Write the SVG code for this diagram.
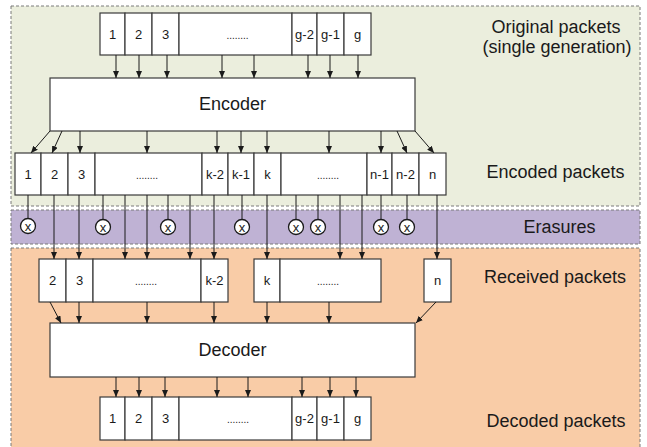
<svg xmlns="http://www.w3.org/2000/svg" width="647" height="447" viewBox="0 0 647 447">
<defs>
<marker id="ah" markerUnits="userSpaceOnUse" markerWidth="7" markerHeight="6" refX="7" refY="3" orient="auto">
<path d="M0,0 L7,3 L0,6 z" fill="#1a1a1a"/>
</marker>
<style>
.region{stroke:#7a7a7a;stroke-width:1;stroke-dasharray:3,2}
.box{fill:#ffffff;stroke:#3a3a3a;stroke-width:1.2}
.lbl{font-family:"Liberation Sans",Arial,sans-serif;font-size:13px;fill:#1a1a1a;text-anchor:middle}
.dots{font-family:"Liberation Sans",Arial,sans-serif;font-size:10px;fill:#1a1a1a;text-anchor:middle}
.big{font-family:"Liberation Sans",Arial,sans-serif;font-size:18px;fill:#1a1a1a;text-anchor:middle}
.ar{stroke:#1a1a1a;stroke-width:1;fill:none;marker-end:url(#ah)}
.ln{stroke:#1a1a1a;stroke-width:1;fill:none}
.xc{fill:#ffffff;stroke:#1a1a1a;stroke-width:1.3}
.xt{font-family:"Liberation Sans",Arial,sans-serif;font-size:13px;fill:#1a1a1a;text-anchor:middle}
</style>
</defs>
<rect width="647" height="447" fill="#ffffff"/>
<g id="regions">
<rect class="region" x="11" y="6" width="629" height="200" fill="#ebeedd"/>
<rect class="region" x="11" y="210" width="629" height="34" fill="#bfb2d4"/>
<rect class="region" x="11" y="248" width="629" height="205" fill="#f9cca7"/>
</g>
<g id="labels">
<text class="big" x="556" y="33">Original packets</text>
<text class="big" x="557" y="53">(single generation)</text>
<text class="big" x="555.5" y="178">Encoded packets</text>
<text class="big" x="559.5" y="233">Erasures</text>
<text class="big" x="555" y="283">Received packets</text>
<text class="big" x="556" y="427">Decoded packets</text>
</g>
<g id="original">
<rect class="box" x="100" y="13" width="25" height="42"/><text class="lbl" x="112.5" y="38.5">1</text>
<rect class="box" x="125" y="13" width="27" height="42"/><text class="lbl" x="138.5" y="38.5">2</text>
<rect class="box" x="152" y="13" width="27" height="42"/><text class="lbl" x="165.5" y="38.5">3</text>
<rect class="box" x="179" y="13" width="113" height="42"/><text class="dots" x="237.5" y="38.5">........</text>
<rect class="box" x="292" y="13" width="25" height="42"/><text class="lbl" x="304.5" y="38.5">g-2</text>
<rect class="box" x="317" y="13" width="27" height="42"/><text class="lbl" x="330.5" y="38.5">g-1</text>
<rect class="box" x="344" y="13" width="27" height="42"/><text class="lbl" x="357.5" y="38.5">g</text>
</g>
<g id="encoder">
<rect class="box" x="50" y="78" width="365" height="53"/>
<text class="big" x="232.5" y="110">Encoder</text>
</g>
<g id="encoded">
<rect class="box" x="15" y="153" width="26" height="42"/><text class="lbl" x="28" y="178.5">1</text>
<rect class="box" x="41" y="153" width="27" height="42"/><text class="lbl" x="54.5" y="178.5">2</text>
<rect class="box" x="68" y="153" width="27" height="42"/><text class="lbl" x="81.5" y="178.5">3</text>
<rect class="box" x="95" y="153" width="107" height="42"/><text class="dots" x="147" y="178.5">........</text>
<rect class="box" x="202" y="153" width="26" height="42"/><text class="lbl" x="215" y="178.5">k-2</text>
<rect class="box" x="228" y="153" width="26" height="42"/><text class="lbl" x="241" y="178.5">k-1</text>
<rect class="box" x="254" y="153" width="27" height="42"/><text class="lbl" x="267.5" y="178.5">k</text>
<rect class="box" x="281" y="153" width="86" height="42"/><text class="dots" x="328" y="178.5">........</text>
<rect class="box" x="367" y="153" width="25" height="42"/><text class="lbl" x="379.5" y="178.5">n-1</text>
<rect class="box" x="392" y="153" width="27" height="42"/><text class="lbl" x="405.5" y="178.5">n-2</text>
<rect class="box" x="419" y="153" width="27" height="42"/><text class="lbl" x="432.5" y="178.5">n</text>
</g>
<g id="received">
<rect class="box" x="39" y="259" width="27" height="43"/><text class="lbl" x="52.5" y="285">2</text>
<rect class="box" x="66" y="259" width="27" height="43"/><text class="lbl" x="79.5" y="285">3</text>
<rect class="box" x="93" y="259" width="108" height="43"/><text class="dots" x="146" y="285">........</text>
<rect class="box" x="201" y="259" width="27" height="43"/><text class="lbl" x="214.5" y="285">k-2</text>
<rect class="box" x="254" y="259" width="26" height="43"/><text class="lbl" x="267" y="285">k</text>
<rect class="box" x="280" y="259" width="101" height="43"/><text class="dots" x="328" y="285">........</text>
<rect class="box" x="424" y="259" width="27" height="43"/><text class="lbl" x="437.5" y="285">n</text>
</g>
<g id="decoder">
<rect class="box" x="50" y="323" width="365" height="54"/>
<text class="big" x="232.5" y="356">Decoder</text>
</g>
<g id="decoded">
<rect class="box" x="100" y="397" width="25" height="43"/><text class="lbl" x="112.5" y="423">1</text>
<rect class="box" x="125" y="397" width="27" height="43"/><text class="lbl" x="138.5" y="423">2</text>
<rect class="box" x="152" y="397" width="27" height="43"/><text class="lbl" x="165.5" y="423">3</text>
<rect class="box" x="179" y="397" width="113" height="43"/><text class="dots" x="238" y="423">........</text>
<rect class="box" x="292" y="397" width="25" height="43"/><text class="lbl" x="304.5" y="423">g-2</text>
<rect class="box" x="317" y="397" width="27" height="43"/><text class="lbl" x="330.5" y="423">g-1</text>
<rect class="box" x="344" y="397" width="27" height="43"/><text class="lbl" x="357.5" y="423">g</text>
</g>
<g id="connectors">
<path class="ar" d="M116,55 V78"/><path class="ar" d="M139,55 V78"/><path class="ar" d="M167,55 V78"/><path class="ar" d="M222,55 V78"/>
<path class="ar" d="M254,55 V78"/><path class="ar" d="M308,55 V78"/><path class="ar" d="M330,55 V78"/><path class="ar" d="M358,55 V78"/>
<path class="ar" d="M50,131 L31,153"/><path class="ar" d="M62,131 L52,153"/>
<path class="ar" d="M80,131 V153"/><path class="ar" d="M147,131 V153"/><path class="ar" d="M217,131 V153"/><path class="ar" d="M241,131 V153"/>
<path class="ar" d="M267,131 V153"/><path class="ar" d="M329,131 V153"/><path class="ar" d="M381,131 V153"/>
<path class="ar" d="M397,131 L407,153"/><path class="ar" d="M415,131 L434,153"/>
<path class="ln" d="M28,195 V218.5"/><path class="ln" d="M103,195 V219.5"/><path class="ln" d="M168,195 V219.5"/><path class="ln" d="M242,195 V219.5"/>
<path class="ln" d="M296,195 V219.5"/><path class="ln" d="M318,195 V219.5"/><path class="ln" d="M381,195 V219.5"/><path class="ln" d="M407,195 V219.5"/>
<path class="ar" d="M54,195 V259"/><path class="ar" d="M79,195 V259"/><path class="ar" d="M125,195 V259"/><path class="ar" d="M147,195 V259"/>
<path class="ar" d="M190,195 V259"/><path class="ar" d="M214,195 V259"/><path class="ar" d="M267,195 V259"/><path class="ar" d="M340,195 V259"/>
<path class="ar" d="M362,195 V259"/><path class="ar" d="M437,195 V259"/>
<path class="ar" d="M50,302 L61,323"/><path class="ar" d="M79,302 V323"/><path class="ar" d="M147,302 V323"/><path class="ar" d="M214,302 V323"/>
<path class="ar" d="M267,302 V323"/><path class="ar" d="M329,302 V323"/><path class="ar" d="M436,302 L416,323"/>
<path class="ar" d="M116,377 V397"/><path class="ar" d="M139,377 V397"/><path class="ar" d="M165,377 V397"/><path class="ar" d="M217,377 V397"/>
<path class="ar" d="M248,377 V397"/><path class="ar" d="M302,377 V397"/><path class="ar" d="M330,377 V397"/><path class="ar" d="M356,377 V397"/>
</g>
<g id="erasures">
<circle class="xc" cx="28" cy="226" r="7.5"/><text class="xt" x="28" y="230.5">x</text>
<circle class="xc" cx="103" cy="227" r="7.5"/><text class="xt" x="103" y="231.5">x</text>
<circle class="xc" cx="168" cy="227" r="7.5"/><text class="xt" x="168" y="231.5">x</text>
<circle class="xc" cx="242" cy="227" r="7.5"/><text class="xt" x="242" y="231.5">x</text>
<circle class="xc" cx="296" cy="227" r="7.5"/><text class="xt" x="296" y="231.5">x</text>
<circle class="xc" cx="318" cy="227" r="7.5"/><text class="xt" x="318" y="231.5">x</text>
<circle class="xc" cx="381" cy="227" r="7.5"/><text class="xt" x="381" y="231.5">x</text>
<circle class="xc" cx="407" cy="227" r="7.5"/><text class="xt" x="407" y="231.5">x</text>
</g>
</svg>
